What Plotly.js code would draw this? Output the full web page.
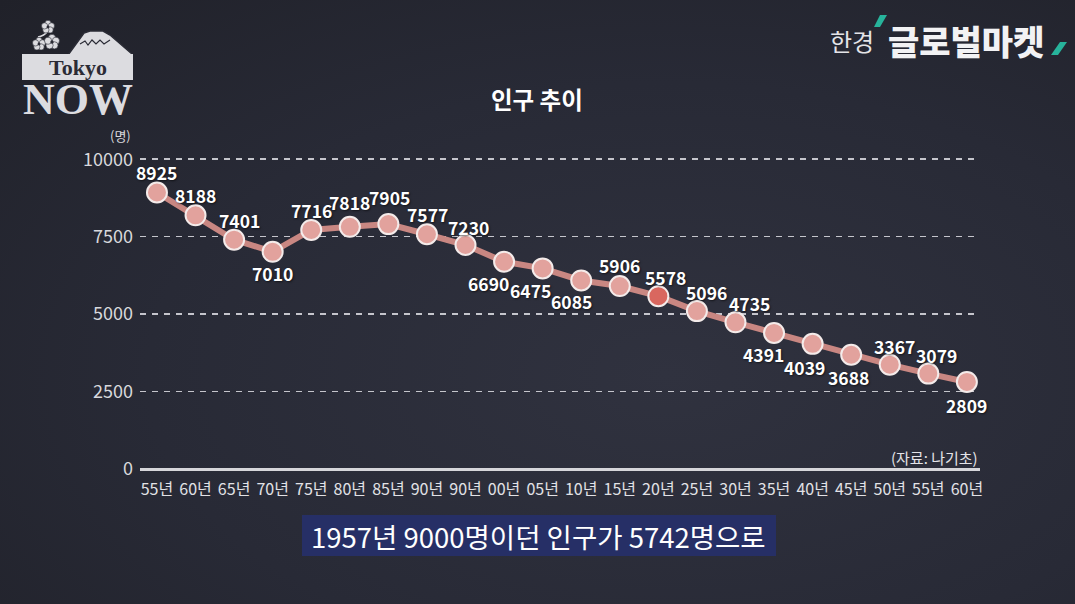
<!DOCTYPE html>
<html>
<head>
<meta charset="utf-8">
<script src="https://cdn.plot.ly/plotly-3.0.1.min.js"></script>
<style>
  html, body { margin: 0; padding: 0; }
  body {
    width: 1075px; height: 604px; overflow: hidden;
    background: radial-gradient(ellipse at 62% 62%, #30323f 0%, #282a36 55%, #202129 100%);
  }
  #chart { width: 1075px; height: 604px; }
</style>
</head>
<body>
<div id="chart"></div>
<script>
// ---- data ----
const categories = ['55년','60년','65년','70년','75년','80년','85년','90년','90년','00년','05년','10년','15년','20년','25년','30년','35년','40년','45년','50년','55년','60년'];
const population = [8925, 8188, 7401, 7010, 7716, 7818, 7905, 7577, 7230, 6690, 6475, 6085, 5906, 5578, 5096, 4735, 4391, 4039, 3688, 3367, 3079, 2809];
const yTicks = [0, 2500, 5000, 7500, 10000];
const highlightIndex = 13;

const chartTitle = '인구 추이';
const unitLabel = '(명)';
const sourceLabel = '(자료: 나기초)';
const captionText = '1957년 9000명이던 인구가 5742명으로';

// ---- label placement (style) ----
const labelDx = [0, 0, 5, 0, 0, 0, 1, 1, 3, -16, -12, -10, 0, 7, 10, 14, -11, -8, -3, 5, 8, 0];
const labelDy = [20, 20, 19, -22, 19, 24, 27, 20, 18, -22, -22, -21, 21, 19, 18.5, 19, -22, -24, -23, 18, 18, -24];

const W = 1075, H = 604;
const M = {l: 140, r: 95, t: 153, b: 135};
const PW = W - M.l - M.r, PH = H - M.t - M.b;
const px = x => (x - M.l) / PW;
const py = y => (H - M.b - y) / PH;

const xIdx = categories.map((_, i) => i);
const FONT = '"Noto Sans CJK KR", "Noto Sans", sans-serif';

const markerColors = population.map((_, i) => i === highlightIndex ? '#d9675f' : '#e2a29d');

const traces = [{
  x: xIdx, y: population,
  type: 'scatter', mode: 'lines+markers',
  line: {color: '#c98782', width: 6},
  marker: {size: 20, color: markerColors, line: {color: '#f4ebea', width: 2}},
  cliponaxis: false,
  hoverinfo: 'skip'
}];

const annotations = population.map((v, i) => ({
  x: xIdx[i], y: v, xref: 'x', yref: 'y',
  xanchor: 'center', yanchor: 'middle',
  text: String(v), showarrow: false,
  xshift: labelDx[i], yshift: labelDy[i],
  font: {family: FONT, size: 17.5, color: '#ffffff', weight: 700, shadow: '1px 1px 2px rgba(0,0,0,0.55)'}
}));

function note(x, y, text, font, xanchor) {
  return {xref: 'paper', yref: 'paper', x: px(x), y: py(y), text: text, showarrow: false,
          xanchor: xanchor || 'center', yanchor: 'middle', font: font};
}

annotations.push(
  note(537, 99, chartTitle, {family: FONT, size: 23.5, color: '#ffffff', weight: 700}),
  note(133, 136, unitLabel, {family: FONT, size: 13, color: '#d8d8dc'}, 'right'),
  note(980, 457, sourceLabel, {family: FONT, size: 15, color: '#e4e4e8'}, 'right'),
  note(538, 536, captionText, {family: FONT, size: 27.5, color: '#ffffff', weight: 400}),
  // Tokyo NOW logo
  note(77.5, 67, 'Tokyo', {family: '"Liberation Serif", serif', size: 22, color: '#2b2b35', weight: 700}),
  note(77.5, 99, 'NOW', {family: '"Liberation Serif", serif', size: 44, color: '#dcdce0', weight: 700}),
  // 한경 글로벌마켓 logo
  note(828, 40, '한경', {family: FONT, size: 24, color: '#e4e4e8', weight: 400}, 'left'),
  note(886, 40, '글로벌마켓', {family: FONT, size: 34, color: '#f2f2f4', weight: 900}, 'left')
);

function P(x, y) { return px(x) + ',' + py(y); }

// plum-blossom flowers of the logo, drawn as petals around a centre
function flower(cx, cy, r) {
  const out = [];
  for (let k = 0; k < 5; k++) {
    const a = -Math.PI / 2 + k * 2 * Math.PI / 5;
    const fx = cx + 0.55 * r * Math.cos(a), fy = cy + 0.55 * r * Math.sin(a), pr = 0.48 * r;
    out.push({type: 'circle', xref: 'paper', yref: 'paper',
      x0: px(fx - pr), x1: px(fx + pr), y0: py(fy + pr), y1: py(fy - pr),
      fillcolor: '#dcdce0', line: {color: '#2a2b35', width: 0.6}});
  }
  out.push({type: 'circle', xref: 'paper', yref: 'paper',
    x0: px(cx - 0.22 * r), x1: px(cx + 0.22 * r), y0: py(cy + 0.22 * r), y1: py(cy - 0.22 * r),
    fillcolor: '#2a2b35', line: {width: 0}});
  return out;
}

const shapes = [
  // caption box
  {type: 'rect', xref: 'paper', yref: 'paper', x0: px(302), x1: px(776), y0: py(556), y1: py(515),
   fillcolor: '#262f66', line: {width: 0}, layer: 'below'},
  // mountain
  {type: 'path', xref: 'paper', yref: 'paper',
   path: 'M' + P(68, 55) + 'L' + P(84, 33) + 'L' + P(90, 31) + 'L' + P(103, 31) + 'L' + P(110, 35) + 'L' + P(132, 54) + 'L' + P(132, 55) + 'Z',
   fillcolor: '#dcdce0', line: {color: '#2a2b35', width: 1.5}, layer: 'below'},
  {type: 'path', xref: 'paper', yref: 'paper',
   path: 'M' + P(80, 44) + 'L' + P(85, 41) + 'L' + P(88, 45) + 'L' + P(92, 40) + 'L' + P(96, 44) + 'L' + P(100, 40) + 'L' + P(104, 44) + 'L' + P(110, 40),
   line: {color: '#2a2b35', width: 1.2}, layer: 'below'},
  // branch
  {type: 'path', xref: 'paper', yref: 'paper',
   path: 'M' + P(38, 37) + 'Q' + P(44, 36) + ' ' + P(48, 31),
   line: {color: '#dcdce0', width: 1.5}},
  // Tokyo box
  {type: 'rect', xref: 'paper', yref: 'paper', x0: px(22), x1: px(133), y0: py(80), y1: py(54),
   fillcolor: '#dcdce0', line: {width: 0}, layer: 'below'},
  // teal slashes
  {type: 'path', xref: 'paper', yref: 'paper',
   path: 'M' + P(880, 15) + 'L' + P(887, 15) + 'L' + P(880, 27) + 'L' + P(874, 27) + 'Z',
   fillcolor: '#27b39b', line: {width: 0}},
  {type: 'path', xref: 'paper', yref: 'paper',
   path: 'M' + P(1060, 42) + 'L' + P(1067, 42) + 'L' + P(1058, 55) + 'L' + P(1051, 55) + 'Z',
   fillcolor: '#27b39b', line: {width: 0}}
].concat(flower(48, 27, 6.5), flower(39, 44, 6.5), flower(52, 42, 7.5));

const layout = {
  width: W, height: H,
  margin: M,
  paper_bgcolor: 'rgba(0,0,0,0)',
  plot_bgcolor: 'rgba(0,0,0,0)',
  showlegend: false,
  xaxis: {
    range: [-0.44, 21.34],
    tickmode: 'array', tickvals: xIdx, ticktext: categories,
    showgrid: false, zeroline: false, showline: false,
    ticks: '', ticklabelstandoff: 9,
    tickfont: {family: FONT, size: 16, color: '#e2e2e6'},
    fixedrange: true
  },
  yaxis: {
    range: [0, 10200],
    tickmode: 'array', tickvals: yTicks, ticktext: yTicks.map(String),
    showgrid: true, gridcolor: 'rgba(225,225,230,0.85)', gridwidth: 1.5, griddash: '6px,6px',
    zeroline: true, zerolinecolor: '#d6d6da', zerolinewidth: 3,
    showline: false, ticks: '', ticklabelstandoff: 6,
    tickfont: {family: FONT, size: 18, color: '#d8d8dc'},
    fixedrange: true
  },
  annotations: annotations,
  shapes: shapes
};

Plotly.newPlot('chart', traces, layout, {displayModeBar: false, staticPlot: true});
</script>
</body>
</html>
